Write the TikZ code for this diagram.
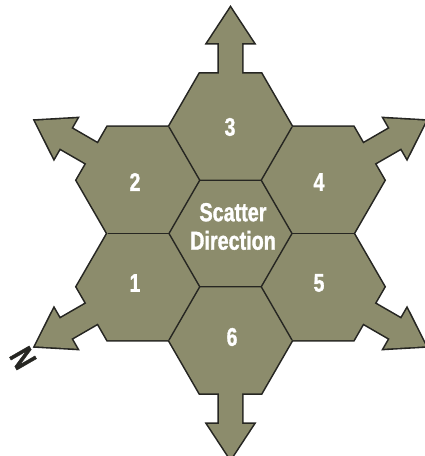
\documentclass[tikz,border=0pt]{standalone}
\usepackage{fontspec}
\newfontfamily\condfont{Liberation Sans}[FakeStretch=0.76,FakeBold=1.2]
\usetikzlibrary{calc}
\definecolor{hexfill}{RGB}{140,140,108}
\definecolor{hexline}{RGB}{38,38,34}
\tikzset{
  outerline/.style={draw=hexline, line width=3.2pt, line join=miter},
  bodyfill/.style={fill=hexfill},
  innerline/.style={draw=hexline, line width=1.4pt},
  numlabel/.style={text=white, font=\condfont\bfseries\fontsize{25.5}{28}\selectfont, inner sep=0pt},
  titlelabel/.style={text=white, font=\condfont\bfseries\fontsize{26}{28.5}\selectfont, inner sep=0pt, align=center},
  northlabel/.style={text=hexline, font=\condfont\bfseries\fontsize{33}{33}\selectfont, inner sep=0pt},
}
\newcommand\hexshape[1]{(#1) ++(0:61.5) -- ++(120:61.5) -- ++(180:61.5) -- ++(240:61.5) -- ++(300:61.5) -- ++(0:61.5) -- cycle}
\newcommand\arrowpts{(40,-11.5) -- (84,-11.5) -- (84,-23) -- (119,0) -- (84,23) -- (84,11.5) -- (40,11.5) -- cycle}
\begin{document}
\begin{tikzpicture}[x=1pt,y=1pt]
\useasboundingbox (0,0) rectangle (425,456);
\coordinate (C) at (230.5,222.5);
\foreach \n/\a in {3/90,4/30,5/-30,6/-90,1/210,2/150} {
  \coordinate (H\n) at ($(C)+(\a:106.52)$);
}
% pass 1: thick outlines
\foreach \n/\a in {3/90,4/30,5/-30,6/-90,1/210,2/150} {
  \begin{scope}[shift={(H\n)},rotate=\a]
    \path[outerline] \arrowpts;
  \end{scope}
}
\foreach \n in {C,H1,H2,H3,H4,H5,H6} {
  \path[outerline] \hexshape{\n};
}
% pass 2: fills
\foreach \n/\a in {3/90,4/30,5/-30,6/-90,1/210,2/150} {
  \begin{scope}[shift={(H\n)},rotate=\a]
    \path[bodyfill] \arrowpts;
  \end{scope}
}
\foreach \n in {C,H1,H2,H3,H4,H5,H6} {
  \path[bodyfill] \hexshape{\n};
}
% pass 3: inner edges
\path[innerline] \hexshape{C};
\foreach \a in {0,60,...,300} {
  \coordinate (s\a) at ($(C)+(\a:61.5)$);
  \coordinate (e\a) at ($(C)+(\a:123)$);
  \draw[innerline] (s\a) -- (e\a);
}
% labels
\node[numlabel] (n3) at (230,329) {3};
\node[numlabel] (n4) at (319,274) {4};
\node[numlabel] (n2) at (135,274) {2};
\node[numlabel] (n1) at (135,173) {1};
\node[numlabel] (n5) at (319,173) {5};
\node[numlabel] (n6) at (232,119) {6};
\node[titlelabel] (sd) at (233,229.5) {Scatter\\Direction};
\node[northlabel, rotate=120] (north) at (23,98) {N};
\end{tikzpicture}
\end{document}
